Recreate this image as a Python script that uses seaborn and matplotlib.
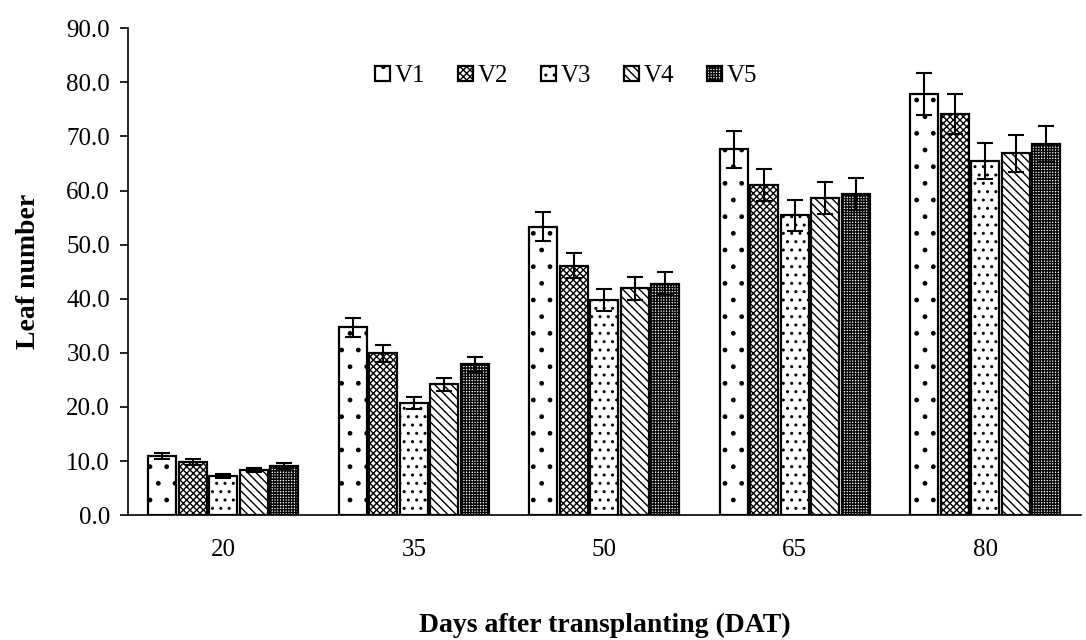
import pandas as pd
import seaborn as sns
import numpy as np
import matplotlib
matplotlib.use('Agg')
import matplotlib.pyplot as plt

# data
days = ['20', '35', '50', '65', '80']
varieties = ['V1', 'V2', 'V3', 'V4', 'V5']
v1 = [10.9, 34.7, 53.3, 67.6, 77.9]
v2 = [9.8, 29.9, 46.1, 61.0, 74.1]
v3 = [7.2, 20.7, 39.8, 55.4, 65.4]
v4 = [8.3, 24.2, 41.9, 58.6, 66.9]
v5 = [9.1, 27.9, 42.8, 59.4, 68.6]
e1 = [0.6, 1.8, 2.7, 3.4, 3.9]
e2 = [0.5, 1.5, 2.3, 3.0, 3.7]
e3 = [0.4, 1.1, 2.0, 2.8, 3.3]
e4 = [0.4, 1.2, 2.1, 2.9, 3.4]
e5 = [0.5, 1.4, 2.2, 3.0, 3.4]

vals = [v1, v2, v3, v4, v5]
errs = [e1, e2, e3, e4, e5]
hatches = ['.', 'xxxxx', '..', '\\\\\\\\', '++++++']

rows = []
for name, vv in zip(varieties, vals):
    for d, v in zip(days, vv):
        rows.append({'DAT': d, 'Variety': name, 'Leaf': v})
df = pd.DataFrame(rows)

sns.set_style('ticks')
plt.rcParams['font.family'] = ['Liberation Serif', 'DejaVu Serif']
plt.rcParams['hatch.linewidth'] = 1.0
plt.rcParams['hatch.color'] = 'black'
plt.rcParams['text.color'] = 'black'
plt.rcParams['axes.labelcolor'] = 'black'
plt.rcParams['xtick.color'] = 'black'
plt.rcParams['ytick.color'] = 'black'

fig = plt.figure(figsize=(10.86, 6.4), dpi=100)
ax = fig.add_axes([0.118, 0.195, 0.877, 0.761])

sns.barplot(data=df, x='DAT', y='Leaf', hue='Variety', order=days, hue_order=varieties,
            color='white', edgecolor='black', linewidth=1.6, width=0.8, gap=0.08,
            errorbar=None, ax=ax, legend=True)

for cont, h, err in zip(ax.containers, hatches, errs):
    xs, ys = [], []
    for bar in cont:
        bar.set_facecolor('white')
        bar.set_hatch(h)
        xs.append(bar.get_x() + bar.get_width() / 2)
        ys.append(bar.get_height())
    ax.errorbar(xs, ys, yerr=err, fmt='none', ecolor='black', elinewidth=1.5,
                capsize=6, capthick=1.5)

ax.set_ylim(0, 90)
ax.set_yticks(np.arange(0, 91, 10))
ax.set_yticklabels(['%.1f' % t for t in np.arange(0, 91, 10)])
ax.set_xlim(-0.5, 4.5)
ax.tick_params(axis='both', labelsize=18, length=6, width=1.2, color='black', labelcolor='black')
ax.tick_params(axis='y', pad=7)
ax.tick_params(axis='x', length=0, pad=17)
for s in ['top', 'right']:
    ax.spines[s].set_visible(False)
for s in ['left', 'bottom']:
    ax.spines[s].set_linewidth(1.2)
    ax.spines[s].set_color('black')

ax.set_ylabel('Leaf number', fontsize=20, fontweight='bold', labelpad=18)
ax.set_xlabel('Days after transplanting (DAT)', fontsize=20, fontweight='bold')
ax.xaxis.set_label_coords(0.5, -0.2)

leg = ax.legend(loc='upper center', bbox_to_anchor=(0.46, 0.97), ncol=5, frameon=False,
                fontsize=18, handlelength=0.6, handleheight=0.6, handletextpad=0.2,
                columnspacing=1.3)
for patch, h in zip(leg.get_patches(), hatches):
    patch.set_hatch(h)
    patch.set_facecolor('white')
    patch.set_edgecolor('black')

fig.savefig('out.png', dpi=100)
